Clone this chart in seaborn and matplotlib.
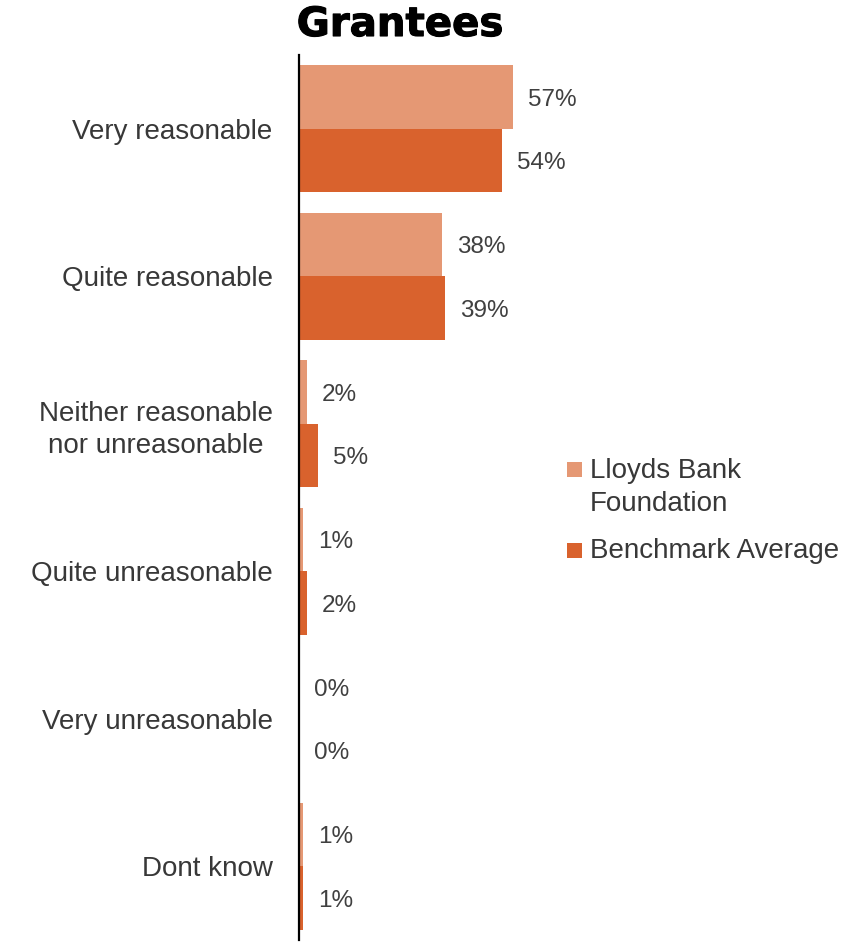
import matplotlib
matplotlib.use("Agg")
import matplotlib.pyplot as plt
import matplotlib.patheffects as pe
import seaborn as sns
import pandas as pd
from matplotlib.patches import Rectangle

categories = ["Very reasonable", "Quite reasonable", "Neither reasonable\nnor unreasonable",
              "Quite unreasonable", "Very unreasonable", "Dont know"]
series_names = ["Lloyds Bank\nFoundation", "Benchmark Average"]
lloyds = [57, 38, 2, 1, 0, 1]
benchmark = [54, 39, 5, 2, 0, 1]
colors = ["#E59874", "#D9622D"]

df = pd.DataFrame({
    "category": categories * 2,
    "group": [series_names[0]] * len(categories) + [series_names[1]] * len(categories),
    "value": lloyds + benchmark,
})

sns.set_theme(style="white")
plt.rcParams["font.family"] = ["Liberation Sans", "DejaVu Sans"]
text_color = "#383838"

W, H = 858, 944
fig = plt.figure(figsize=(W / 100, H / 100), dpi=100)
ax = fig.add_axes([299 / W, 1 - 940 / H, 250 / W, (940 - 55) / H])

sns.barplot(data=df, y="category", x="value", hue="group", orient="h",
            palette=colors, width=0.86, ax=ax, legend=False, saturation=1,
            linewidth=0)

ax.set_xlim(0, 250 / 3.75)
ax.set_ylim(len(categories) - 0.5, -0.5)
ax.set_xlabel("")
ax.set_ylabel("")
ax.set_xticks([])
for s in ["top", "right", "bottom"]:
    ax.spines[s].set_visible(False)
ax.spines["left"].set_color("black")
ax.spines["left"].set_linewidth(1.6)
ax.tick_params(axis="y", length=0, pad=19, labelsize=20, labelcolor=text_color)
for lab in ax.get_yticklabels():
    lab.set_multialignment("center")
    lab.set_linespacing(1.32)

for container in ax.containers:
    texts = ax.bar_label(container, labels=[f"{v:.0f}%" for v in container.datavalues],
                         padding=11, fontsize=17.5, color="#404040")
    for t in texts:
        t.set_y(t.get_position()[1])
        t.xyann = (t.xyann[0], -2)

fig.text(400 / W, 1 - 25 / H, "Grantees", ha="center", va="center",
         fontsize=29, fontweight="bold", family="DejaVu Sans", color="black",
         path_effects=[pe.withStroke(linewidth=0.8, foreground="black")])

# legend: square swatch aligned with the first line of each entry
line_step = 33
legend_rows = [(469.5, 478), (550, 558)]
for (cy, base), name, c in zip(legend_rows, series_names, colors):
    fig.patches.append(Rectangle((567 / W, 1 - (cy + 7.5) / H), 15 / W, 15 / H,
                                 transform=fig.transFigure, facecolor=c,
                                 edgecolor="none"))
    for i, line in enumerate(name.split("\n")):
        fig.text(590 / W, 1 - (base + i * line_step) / H, line, ha="left",
                 va="baseline", fontsize=20, color=text_color)

fig.savefig("out.png", dpi=100)
